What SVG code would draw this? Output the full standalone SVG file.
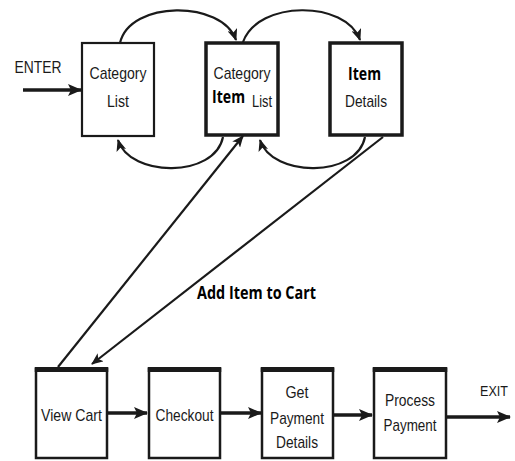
<svg xmlns="http://www.w3.org/2000/svg" width="515" height="461" viewBox="0 0 515 461">
<defs>
<marker id="ah" markerWidth="12" markerHeight="10" refX="11" refY="5" orient="auto" markerUnits="userSpaceOnUse">
<path d="M0,0 L12,5 L0,10 L3,5 Z" fill="#1a1a1a"/>
</marker>
<marker id="ahb" markerWidth="14" markerHeight="12" refX="13" refY="6" orient="auto" markerUnits="userSpaceOnUse">
<path d="M0,0 L14,6 L0,12 L3,6 Z" fill="#1a1a1a"/>
</marker>
</defs>
<style>
.box{fill:#fff;stroke:#1a1a1a}
.t{font-family:"Liberation Sans",Arial,sans-serif;font-size:17px;fill:#1a1a1a;text-anchor:middle}
.b{font-family:"Open Sans","Liberation Sans",sans-serif;font-weight:bold;font-size:18px;fill:#000}
.a{font-family:"Open Sans","Liberation Sans",sans-serif;font-weight:bold;font-size:17px;fill:#000}
.c{fill:none;stroke:#1a1a1a;stroke-width:2.2}
.h{fill:none;stroke:#1a1a1a;stroke-width:3.5}
</style>
<rect width="515" height="461" fill="#fff"/>
<g id="connectors">
<path class="h" d="M23,90 L81,90" marker-end="url(#ahb)"/>
<path class="c" d="M120,43 C130,0 222,0 236,40" marker-end="url(#ah)"/>
<path class="c" d="M243,42 C258,0 346,0 360,40" marker-end="url(#ah)"/>
<path class="c" d="M223,137 C215,178 130,178 118,140" marker-end="url(#ah)"/>
<path class="c" d="M365,137 C357,178 272,178 260,140" marker-end="url(#ah)"/>
<path class="c" d="M58,367 L243,136" marker-end="url(#ah)"/>
<path class="c" d="M383,137 L92,364" marker-end="url(#ah)"/>
<path class="h" d="M107,413 L147,413" marker-end="url(#ahb)"/>
<path class="h" d="M221,413 L261,413" marker-end="url(#ahb)"/>
<path class="h" d="M333,415 L372,415" marker-end="url(#ahb)"/>
<path class="h" d="M446,417 L510,417" marker-end="url(#ahb)"/>
</g>
<text class="t" x="38" y="73" textLength="47" lengthAdjust="spacingAndGlyphs">ENTER</text>
<text class="t" x="494" y="396" style="font-size:15px" textLength="28" lengthAdjust="spacingAndGlyphs">EXIT</text>
<text class="a" x="197" y="299" textLength="119" lengthAdjust="spacingAndGlyphs">Add Item to Cart</text>
<g id="category-list">
<rect class="box" x="82" y="43" width="72" height="93" stroke-width="2.2"/>
<text class="t" x="118" y="79" textLength="57" lengthAdjust="spacingAndGlyphs">Category</text>
<text class="t" x="118" y="107" textLength="22" lengthAdjust="spacingAndGlyphs">List</text>
</g>
<g id="category-item-list">
<rect class="box" x="206" y="43" width="72" height="92" stroke-width="3.5"/>
<text class="t" x="242" y="79" textLength="57" lengthAdjust="spacingAndGlyphs">Category</text>
<text class="b" x="212" y="103" textLength="33" lengthAdjust="spacingAndGlyphs">Item</text>
<text class="t" x="262" y="107" textLength="20" lengthAdjust="spacingAndGlyphs">List</text>
</g>
<g id="item-details">
<rect class="box" x="330" y="43" width="72" height="92" stroke-width="3.5"/>
<text class="b" x="348" y="80" textLength="33" lengthAdjust="spacingAndGlyphs">Item</text>
<text class="t" x="366" y="107" textLength="42" lengthAdjust="spacingAndGlyphs">Details</text>
</g>
<g id="view-cart">
<rect class="box" x="36" y="369" width="71" height="89" stroke-width="2.5"/>
<path d="M34.75,369.5 L108.25,369.5" stroke="#1a1a1a" stroke-width="5"/>
<text class="t" x="71.5" y="421" textLength="61" lengthAdjust="spacingAndGlyphs">View Cart</text>
</g>
<g id="checkout">
<rect class="box" x="149" y="369" width="71" height="89" stroke-width="2.5"/>
<path d="M147.75,369.5 L221.25,369.5" stroke="#1a1a1a" stroke-width="5"/>
<text class="t" x="184.5" y="421" textLength="58" lengthAdjust="spacingAndGlyphs">Checkout</text>
</g>
<g id="get-payment-details">
<rect class="box" x="262" y="369" width="71" height="89" stroke-width="2.5"/>
<path d="M260.75,369.5 L334.25,369.5" stroke="#1a1a1a" stroke-width="5"/>
<text class="t" x="297" y="398" textLength="23" lengthAdjust="spacingAndGlyphs">Get</text>
<text class="t" x="297" y="424" textLength="54" lengthAdjust="spacingAndGlyphs">Payment</text>
<text class="t" x="297" y="448" textLength="42" lengthAdjust="spacingAndGlyphs">Details</text>
</g>
<g id="process-payment">
<rect class="box" x="374" y="369" width="72" height="89" stroke-width="2.5"/>
<path d="M372.75,369.5 L447.25,369.5" stroke="#1a1a1a" stroke-width="5"/>
<text class="t" x="410" y="406" textLength="50" lengthAdjust="spacingAndGlyphs">Process</text>
<text class="t" x="410" y="431" textLength="53" lengthAdjust="spacingAndGlyphs">Payment</text>
</g>
</svg>
